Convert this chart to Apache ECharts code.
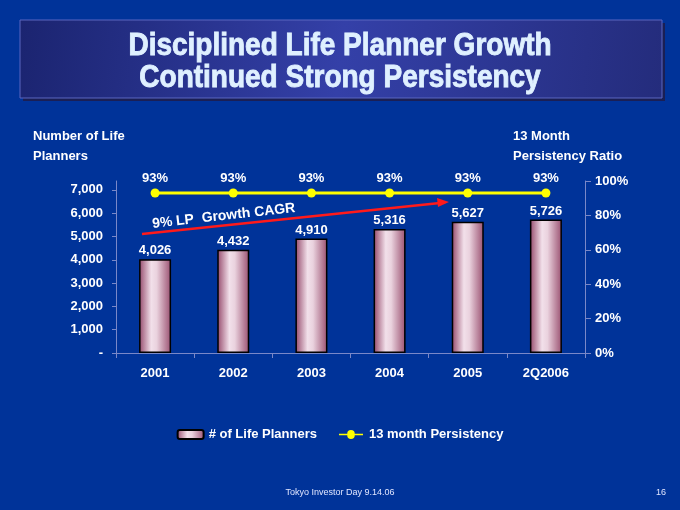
<!DOCTYPE html>
<html>
<head>
<meta charset="utf-8">
<script src="https://cdn.jsdelivr.net/npm/echarts@6/dist/echarts.min.js"></script>
<style>
  html, body { margin: 0; padding: 0; background: #003399; }
  #main { width: 680px; height: 510px; }
</style>
</head>
<body>
<div id="main"></div>
<script>
// data
var categories = ['2001', '2002', '2003', '2004', '2005', '2Q2006'];
var lifePlanners = [4026, 4432, 4910, 5316, 5627, 5726];
var persistency = [0.93, 0.93, 0.93, 0.93, 0.93, 0.93];
var leftTicks = [0, 1000, 2000, 3000, 4000, 5000, 6000, 7000];

var FONT = '"Liberation Sans", Arial, sans-serif';

var barColor = new echarts.graphic.LinearGradient(0, 0, 1, 0, [
  { offset: 0, color: '#94486a' },
  { offset: 0.38, color: '#f2e0ea' },
  { offset: 0.55, color: '#ead2de' },
  { offset: 1, color: '#9a5070' }
]);

var myChart = echarts.init(document.getElementById('main'));
var option = {
  backgroundColor: '#003399',
  textStyle: { fontFamily: FONT },
  animation: false,
  grid: { left: 116, right: 95, top: 181, bottom: 157 },
  graphic: [
    // title box
    {
      type: 'rect', shape: { x: 23, y: 23, width: 642, height: 78 },
      style: { fill: '#1a1f55' }
    },
    {
      type: 'rect', shape: { x: 20, y: 20, width: 642, height: 78 },
      style: {
        fill: new echarts.graphic.LinearGradient(0, 0, 1, 1, [
          { offset: 0, color: '#1b2470' },
          { offset: 0.5, color: '#3440a8' },
          { offset: 1, color: '#242c7c' }
        ]),
        stroke: '#5a66c0', lineWidth: 1
      }
    },
    {
      type: 'text', x: 340, y: 31, scaleY: 1.12,
      style: {
        text: 'Disciplined Life Planner Growth\nContinued Strong Persistency',
        fill: '#dff0ff', font: 'bold 28px ' + FONT, align: 'center',
        lineHeight: 28, shadowColor: '#0a0f30', shadowOffsetX: 2, shadowOffsetY: 2, shadowBlur: 0,
        stroke: '#dff0ff', lineWidth: 0.8
      }
    },
    // axis titles
    {
      type: 'text', left: 33, top: 126,
      style: { text: 'Number of Life\nPlanners', fill: '#ffffff', font: 'bold 13px ' + FONT, lineHeight: 20 }
    },
    {
      type: 'text', left: 513, top: 126,
      style: { text: '13 Month\nPersistency Ratio', fill: '#ffffff', font: 'bold 13px ' + FONT, lineHeight: 20 }
    },
    // growth arrow
    {
      type: 'line', shape: { x1: 142, y1: 234, x2: 440, y2: 203 },
      style: { stroke: '#ff1a1a', lineWidth: 2.5 }
    },
    {
      type: 'polygon', shape: { points: [[449, 202], [437, 198], [438, 207]] },
      style: { fill: '#ff1a1a' }
    },
    {
      type: 'text', x: 153, y: 231, rotation: 6.4 * Math.PI / 180,
      style: { text: '9% LP  Growth CAGR', fill: '#ffffff', font: 'bold 14px ' + FONT, verticalAlign: 'bottom' }
    },
    // footer
    {
      type: 'text', left: 'center', top: 488,
      style: { text: 'Tokyo Investor Day 9.14.06', fill: '#e0e6ff', font: '9px "Liberation Sans Narrow", ' + FONT }
    },
    {
      type: 'text', left: 656, top: 488,
      style: { text: '16', fill: '#e0e6ff', font: '9px "Liberation Sans Narrow", ' + FONT }
    }
  ],
  legend: {
    bottom: 64, left: 'center', itemGap: 22, itemWidth: 26, itemHeight: 9,
    textStyle: { color: '#ffffff', fontWeight: 'bold', fontSize: 13, fontFamily: FONT },
    data: [
      { name: '# of Life Planners' },
      { name: '13 month Persistency', icon: 'path://M0,4 L11,4 A5,5 0 1 1 21,4 L32,4 L32,6 L21,6 A5,5 0 1 1 11,6 L0,6 Z', itemStyle: { color: '#ffff00' } }
    ]
  },
  xAxis: {
    type: 'category',
    data: categories,
    axisLine: { lineStyle: { color: '#7a88c8', width: 1 } },
    axisTick: { show: true, length: 5, inside: false, lineStyle: { color: '#7a88c8' } },
    axisLabel: { color: '#ffffff', fontWeight: 'bold', fontSize: 13, margin: 14 }
  },
  yAxis: [
    {
      type: 'value', min: 0, max: 7380, interval: 1000,
      axisLine: { show: true, lineStyle: { color: '#7a88c8' } },
      axisTick: { show: true, length: 4, lineStyle: { color: '#7a88c8' } },
      splitLine: { show: false },
      axisLabel: {
        color: '#ffffff', fontWeight: 'bold', fontSize: 13, margin: 13,
        showMaxLabel: false,
        formatter: function (v) {
          if (leftTicks.indexOf(v) < 0) return '';
          return v === 0 ? '-' : v.toLocaleString('en-US');
        }
      }
    },
    {
      type: 'value', min: 0, max: 1, interval: 0.2, position: 'right',
      axisLine: { show: true, lineStyle: { color: '#7a88c8' } },
      axisTick: { show: true, length: 6, lineStyle: { color: '#7a88c8' } },
      splitLine: { show: false },
      axisLabel: {
        color: '#ffffff', fontWeight: 'bold', fontSize: 13, margin: 10,
        formatter: function (v) { return Math.round(v * 100) + '%'; }
      }
    }
  ],
  series: [
    {
      name: '# of Life Planners',
      type: 'bar',
      barWidth: 32,
      data: lifePlanners,
      itemStyle: { color: barColor, borderColor: '#000000', borderWidth: 1.5 },
      label: {
        show: true, position: 'top', distance: 2,
        color: '#ffffff', fontWeight: 'bold', fontSize: 13,
        formatter: function (p) { return p.value.toLocaleString('en-US'); }
      }
    },
    {
      name: '13 month Persistency',
      type: 'line',
      yAxisIndex: 1,
      data: persistency,
      symbol: 'circle', symbolSize: 9,
      lineStyle: { color: '#ffff00', width: 3 },
      itemStyle: { color: '#ffff00' },
      label: {
        show: true, position: 'top', distance: 4,
        color: '#ffffff', fontWeight: 'bold', fontSize: 13,
        formatter: function (p) { return Math.round(p.value * 100) + '%'; }
      }
    }
  ]
};
myChart.setOption(option);
</script>
</body>
</html>
